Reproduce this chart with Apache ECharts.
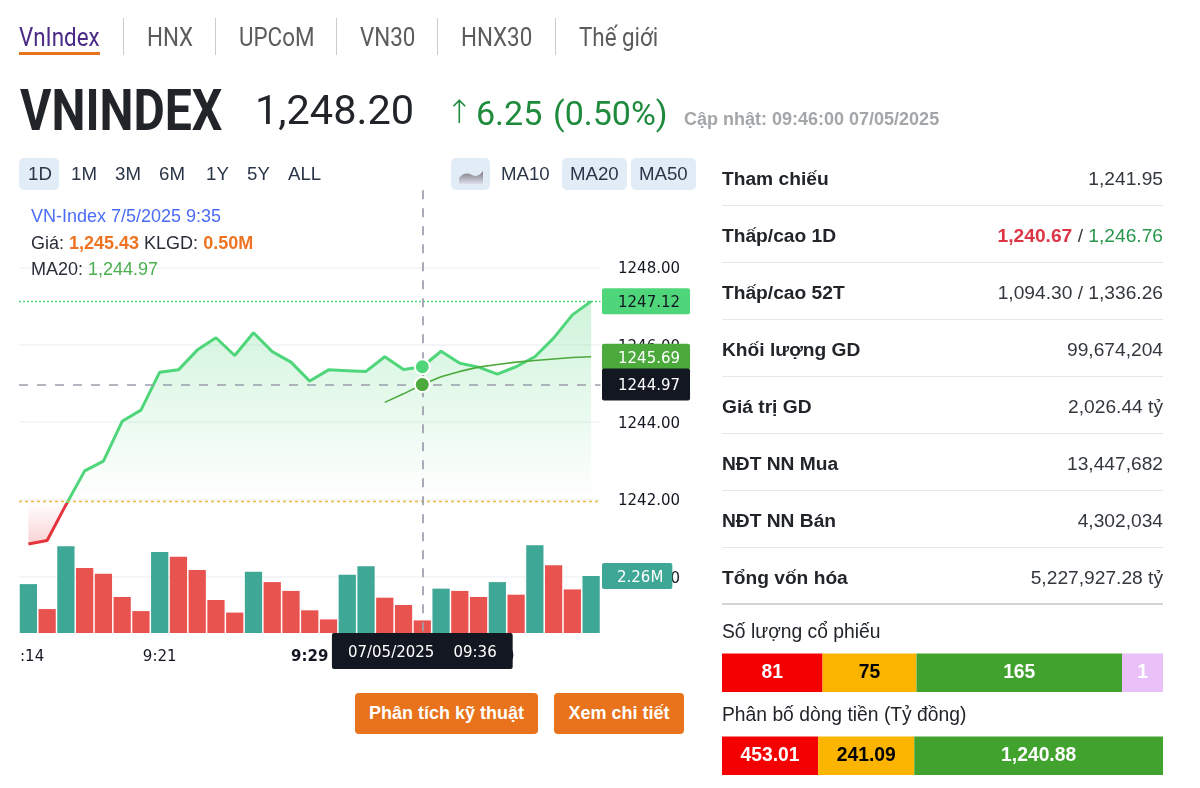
<!DOCTYPE html>
<html>
<head>
<meta charset="utf-8">
<script src="https://cdn.jsdelivr.net/npm/echarts@6/dist/echarts.min.js"></script>
<style>
html, body { margin: 0; padding: 0; background: #fff; }
body { width: 1200px; height: 788px; position: relative; overflow: hidden; font-family: "Liberation Sans", Arial, sans-serif; color: #212529; }
#main { position: absolute; left: 0; top: 0; width: 1200px; height: 788px; }
.t { position: absolute; white-space: nowrap; line-height: 1; transform-origin: left center; }
.tab { font-family: Roboto, sans-serif; font-size: 26px; color: #5c5c5c; top: 24px; transform: scaleX(.86); }
.sep { position: absolute; top: 18px; width: 1px; height: 37px; background: #ccc; }
.rng { font-size: 18.67px; top: 165px; color: #2a3548; }
.box { position: absolute; top: 158px; height: 32px; background: #e1ecf7; border-radius: 5px; }
.leg { font-size: 18px; left: 31px; color: #2a2e39; }
.row { position: absolute; left: 722px; width: 441px; height: 57px; border-bottom: 1px solid #e6e6e6; box-sizing: border-box; font-size: 19.2px; }
.row b { position: absolute; left: 0; top: 20px; line-height: 1; }
.row span { position: absolute; right: 0; top: 20px; line-height: 1; color: #33383e; }
.btn { position: absolute; top: 693px; height: 41px; line-height: 41px; background: #e8731c; color: #fff; font-weight: bold; font-size: 18px; text-align: center; border-radius: 4px; }
</style>
</head>
<body>
<div id="main"></div>

<div class="t tab" style="left:19px;color:#4a2a86">VnIndex</div>
<div style="position:absolute;left:19px;top:52px;width:81px;height:3px;background:#e8731c"></div>
<div class="sep" style="left:123px"></div>
<div class="t tab" style="left:147px">HNX</div>
<div class="sep" style="left:215px"></div>
<div class="t tab" style="left:239px">UPCoM</div>
<div class="sep" style="left:336px"></div>
<div class="t tab" style="left:360px">VN30</div>
<div class="sep" style="left:437px"></div>
<div class="t tab" style="left:461px">HNX30</div>
<div class="sep" style="left:555px"></div>
<div class="t tab" style="left:579px">Thế giới</div>

<div class="t" style="left:20px;top:76px;font:bold 58px Roboto,sans-serif;transform:scaleX(.83)">VNINDEX</div>
<div class="t" style="left:255px;top:85px;font:400 41.5px Roboto,sans-serif">1,248.20</div>
<div class="t" style="left:446px;top:93px;font:300 32px 'DejaVu Sans',sans-serif;color:#1e8a3c">↑</div>
<div class="t" style="left:476px;top:93px;font:400 34px Roboto,sans-serif;color:#1e8a3c">6.25</div>
<div class="t" style="left:553px;top:93px;font:400 34px Roboto,sans-serif;color:#1e8a3c">(0.50%)</div>
<div class="t" style="left:684px;top:109px;font:bold 18px 'Liberation Sans',sans-serif;color:#a3a6a9">Cập nhật: 09:46:00 07/05/2025</div>

<div class="box" style="left:19px;width:40px"></div>
<div class="t rng" style="left:28px">1D</div>
<div class="t rng" style="left:71px">1M</div>
<div class="t rng" style="left:115px">3M</div>
<div class="t rng" style="left:159px">6M</div>
<div class="t rng" style="left:206px">1Y</div>
<div class="t rng" style="left:247px">5Y</div>
<div class="t rng" style="left:288px">ALL</div>
<div class="box" style="left:451px;width:39px"></div>
<svg style="position:absolute;left:451px;top:158px" width="39" height="32">
  <defs><linearGradient id="ic" x1="0" y1="0" x2="0" y2="1"><stop offset="0" stop-color="#777"/><stop offset="1" stop-color="#dde"/></linearGradient></defs>
  <path d="M8 26 L8 20 Q14 13 21 17 Q27 20 32 13 L32 26 Z" fill="url(#ic)"/>
</svg>
<div class="t rng" style="left:501px">MA10</div>
<div class="box" style="left:562px;width:65px"></div>
<div class="t rng" style="left:570px">MA20</div>
<div class="box" style="left:631px;width:65px"></div>
<div class="t rng" style="left:639px">MA50</div>

<div class="t leg" style="top:207px;color:#4a6cf7">VN-Index 7/5/2025 9:35</div>
<div class="t leg" style="top:234px">Giá: <b style="color:#ee7423">1,245.43</b> KLGD: <b style="color:#ee7423">0.50M</b></div>
<div class="t leg" style="top:260px">MA20: <span style="color:#4caf50">1,244.97</span></div>

<div class="row" style="top:149px"><b>Tham chiếu</b><span>1,241.95</span></div>
<div class="row" style="top:206px"><b>Thấp/cao 1D</b><span><b style="position:static;color:#dc3545">1,240.67</b> / <i style="font-style:normal;color:#28974c">1,246.76</i></span></div>
<div class="row" style="top:263px"><b>Thấp/cao 52T</b><span>1,094.30 / 1,336.26</span></div>
<div class="row" style="top:320px"><b>Khối lượng GD</b><span>99,674,204</span></div>
<div class="row" style="top:377px"><b>Giá trị GD</b><span>2,026.44 tỷ</span></div>
<div class="row" style="top:434px"><b>NĐT NN Mua</b><span>13,447,682</span></div>
<div class="row" style="top:491px"><b>NĐT NN Bán</b><span>4,302,034</span></div>
<div class="row" style="top:548px;height:57px;border-bottom:2px solid #d4d4d4"><b>Tổng vốn hóa</b><span>5,227,927.28 tỷ</span></div>

<div class="t" style="left:722px;top:622px;font-size:19.3px">Số lượng cổ phiếu</div>
<div class="t" style="left:722px;top:705px;font-size:19.3px">Phân bố dòng tiền (Tỷ đồng)</div>

<div class="btn" style="left:355px;width:183px">Phân tích kỹ thuật</div>
<div class="btn" style="left:554px;width:130px">Xem chi tiết</div>

<script>
// du lieu doc tu hinh
let times = ['9:14', '9:15', '9:16', '9:17', '9:18', '9:19', '9:20', '9:21', '9:22', '9:23', '9:24',
    '9:25', '9:26', '9:27', '9:28', '9:29', '9:30', '9:31', '9:32', '9:34', '9:35', '9:36', '9:37',
    '9:38', '9:39', '9:40', '9:41', '9:42', '9:43', '9:44', '9:45'];
let priceData = [1240.85, 1240.94, 1241.86, 1242.74, 1242.99, 1244.02, 1244.31, 1245.29, 1245.35, 1245.86, 1246.18,
    1245.72, 1246.31, 1245.82, 1245.55, 1245.06, 1245.35, 1245.33, 1245.31, 1245.69, 1245.36, 1245.43, 1245.83,
    1245.52, 1245.42, 1245.24, 1245.43, 1245.69, 1246.17, 1246.77, 1247.12];
let ma20Data = [null, null, null, null, null, null, null, null, null, null, null,
    null, null, null, null, null, null, null, null, 1244.51, 1244.73, 1244.97, 1245.17,
    1245.31, 1245.42, 1245.49, 1245.55, 1245.59, 1245.63, 1245.67, 1245.69];
let volumeData = [1.94, 0.95, 3.44, 2.58, 2.35, 1.43, 0.87, 3.21, 3.03, 2.5, 1.31,
    0.81, 2.43, 2.02, 1.67, 0.9, 0.54, 2.31, 2.65, 1.4, 1.11, 0.5, 1.76,
    1.67, 1.43, 2.02, 1.52, 3.48, 2.69, 1.73, 2.26];
let volumeUp = [1, 0, 1, 0, 0, 0, 0, 1, 0, 0, 0,
    0, 1, 0, 0, 0, 0, 1, 1, 0, 0, 0, 1,
    0, 0, 1, 0, 1, 0, 0, 1];
let refPrice = 1241.95;
let crossIndex = 21;
let timeTicks = [0, 7, 15, 25];
let tickNames = {0: ':14', 7: '9:21', 15: '9:29', 25: '9:40'};

// trang web co do rong toi thieu nen do dai thanh khong ti le voi gia tri, doc % truc tiep tu hinh
let stockLabels = ['81', '75', '165', '1'];
let stockShare = [22.8, 21.3, 46.6, 9.3];
let flowLabels = ['453.01', '241.09', '1,240.88'];
let flowShare = [21.8, 21.8, 56.4];
let segColors = ['#f50000', '#fbb500', '#41a32d', '#e9c0f7'];
let segText = ['#fff', '#000', '#fff', '#fff'];

const AXIS_FONT = '"DejaVu Sans", sans-serif';
const LINE_GREEN = '#4fd67a', LINE_RED = '#e5343d', MA_GREEN = '#4caa3c', DASH_GREY = '#9c9dac';
const NO_LINE = {color: 'rgba(0,0,0,0)', width: 0};

// vi tri gia tham chieu trong khung bao cua duong gia (0 = dinh, 1 = day)
let priceMax = Math.max.apply(null, priceData), priceMin = Math.min.apply(null, priceData);
let refStop = (priceMax - refPrice) / (priceMax - priceMin);

function tagLabel(text, bg, color, pad) {
    return {
        show: true, position: 'end', distance: 1.5, formatter: '{a|' + text + '}',
        backgroundColor: bg, padding: pad, borderRadius: 2,
        rich: {a: {color: color, fontFamily: AXIS_FONT, fontSize: 15, lineHeight: 15, padding: [4, 0, 0, 0]}}
    };
}

function segmentSeries(labels, shares, gridIdx) {
    return shares.map(function (v, i) {
        return {
            type: 'bar', stack: 'seg' + gridIdx, xAxisIndex: gridIdx, yAxisIndex: gridIdx,
            barCategoryGap: 0, data: [v], silent: true, animation: false,
            itemStyle: {color: segColors[i]},
            label: {
                show: true, position: 'inside', formatter: labels[i], color: segText[i],
                fontFamily: '"Liberation Sans", sans-serif', fontWeight: 'bold', fontSize: 19.3
            }
        };
    });
}

let myChart = echarts.init(document.getElementById('main'), null, {renderer: 'canvas'});
let option = {
    animation: false,
    grid: [
        {left: 19, right: 599.5, top: 189.9, height: 464.4},  // gia
        {left: 19, right: 599.5, top: 532.2, height: 100.8},  // khoi luong
        {left: 722, right: 37, top: 653.5, height: 38.5},
        {left: 722, right: 37, top: 736.5, height: 38.5}
    ],
    xAxis: [
        {type: 'category', gridIndex: 0, data: times, show: false},
        {
            type: 'category', gridIndex: 1, data: times,
            axisLine: {show: false}, axisTick: {show: false},
            axisLabel: {
                interval: function (i) { return timeTicks.indexOf(i) >= 0; },
                hideOverlap: false, margin: 17, fontFamily: AXIS_FONT, fontSize: 15, color: '#131722',
                formatter: function (v, i) {
                    if (i === 0) return '{a|' + tickNames[i] + '}';
                    return i === 15 ? '{b|' + tickNames[i] + '}' : tickNames[i];
                },
                rich: {
                    a: {fontFamily: AXIS_FONT, fontSize: 15, color: '#131722', padding: [0, 0, 0, 7.5]},
                    b: {fontWeight: 'bold', fontFamily: AXIS_FONT, fontSize: 15, color: '#131722'}
                }
            }
        },
        {type: 'value', gridIndex: 2, min: 0, max: 100, show: false},
        {type: 'value', gridIndex: 3, min: 0, max: 100, show: false}
    ],
    yAxis: [
        {
            type: 'value', gridIndex: 0, position: 'right', min: 1238, max: 1250, interval: 2,
            axisLine: {show: false}, axisTick: {show: false},
            splitLine: {show: true, showMinLine: false, showMaxLine: false, lineStyle: {color: '#f0f3f6', width: 1.5}},
            axisLabel: {
                margin: 17.5,
                formatter: function (v) { return (v === 1238 || v === 1250) ? '' : '{a|' + v.toFixed(2) + '}'; },
                rich: {a: {fontFamily: AXIS_FONT, fontSize: 15, color: '#131722', padding: [4, 0, 0, 0]}}
            }
        },
        {type: 'value', gridIndex: 1, min: 0, max: 4, show: false},
        {type: 'category', gridIndex: 2, data: ['a'], show: false},
        {type: 'category', gridIndex: 3, data: ['a'], show: false}
    ],
    series: [
        {
            name: 'KLGD', type: 'bar', xAxisIndex: 1, yAxisIndex: 1, z: 2,
            barCategoryGap: '8%',
            data: volumeData.map(function (v, i) {
                return {value: v, itemStyle: {color: volumeUp[i] ? '#3fa796' : '#e9534f'}};
            }),
            markLine: {
                silent: true, symbol: 'none', z: 20,
                lineStyle: NO_LINE,
                data: [{
                    yAxis: volumeData[volumeData.length - 1],
                    lineStyle: NO_LINE,
                    label: tagLabel(volumeData[volumeData.length - 1].toFixed(2) + 'M', '#3fa796', '#fff', [5.5, 9, 5.5, 15])
                }]
            },
            markPoint: {
                silent: true, symbol: 'circle', symbolSize: 0, z: 30,
                data: [{
                    coord: [crossIndex, 0],
                    label: {
                        show: true, position: 'bottom', distance: 0,
                        formatter: '07/05/2025    09:36',
                        backgroundColor: '#131722', color: '#fff', fontFamily: AXIS_FONT, fontSize: 15,
                        lineHeight: 15, padding: [13, 16, 8, 16], borderRadius: 2
                    }
                }]
            }
        },
        {
            name: 'VN-Index', type: 'line', xAxisIndex: 0, yAxisIndex: 0, z: 3,
            data: priceData, symbol: 'none', smooth: false,
            lineStyle: {
                width: 3,
                color: new echarts.graphic.LinearGradient(0, 0, 0, 1, [
                    {offset: 0, color: LINE_GREEN},
                    {offset: refStop, color: LINE_GREEN},
                    {offset: refStop, color: LINE_RED},
                    {offset: 1, color: LINE_RED}
                ])
            },
            areaStyle: {
                origin: refPrice, opacity: 1,
                // vung xanh phia tren gia tham chieu, vung do phia duoi
                color: new echarts.graphic.LinearGradient(0, 0, 0, 1, [
                    {offset: 0, color: 'rgba(79,214,122,0.28)'},
                    {offset: refStop, color: 'rgba(79,214,122,0)'},
                    {offset: refStop, color: 'rgba(229,52,61,0)'},
                    {offset: 1, color: 'rgba(229,52,61,0.22)'}
                ])
            },
            markLine: {
                silent: true, symbol: 'none', z: 6,
                data: [
                    {
                        yAxis: priceData[priceData.length - 1],
                        lineStyle: {color: LINE_GREEN, type: [2, 2], width: 1.3},
                        label: tagLabel(priceData[priceData.length - 1].toFixed(2), LINE_GREEN, '#131722', [5.5, 10, 5.5, 16])
                    },
                    {
                        yAxis: refPrice,
                        lineStyle: {color: '#e8b93a', type: [3, 3], width: 1.3},
                        label: {show: false}
                    },
                    {
                        yAxis: ma20Data[ma20Data.length - 1],
                        lineStyle: NO_LINE,
                        label: tagLabel(ma20Data[ma20Data.length - 1].toFixed(2), MA_GREEN, '#fff', [5.5, 10, 5.5, 16])
                    },
                    {
                        yAxis: ma20Data[crossIndex],
                        lineStyle: {color: DASH_GREY, type: [9, 9], width: 1.7},
                        label: tagLabel(ma20Data[crossIndex].toFixed(2), '#131722', '#fff', [8.5, 10, 8.5, 16])
                    },
                    {
                        xAxis: crossIndex,
                        lineStyle: {color: DASH_GREY, type: [9, 9], dashOffset: 13, width: 1.7},
                        label: {show: false}
                    }
                ]
            },
            markPoint: {
                silent: true, symbol: 'circle', symbolSize: 15, z: 12,
                label: {show: false},
                data: [
                    {coord: [crossIndex, priceData[crossIndex]], itemStyle: {color: LINE_GREEN, borderColor: '#fff', borderWidth: 2}}
                ]
            }
        },
        {
            name: 'MA20', type: 'line', xAxisIndex: 0, yAxisIndex: 0, z: 4,
            data: ma20Data, symbol: 'none', lineStyle: {color: MA_GREEN, width: 1.6},
            markPoint: {
                silent: true, symbol: 'circle', symbolSize: 15, z: 12,
                label: {show: false},
                data: [
                    {coord: [crossIndex, ma20Data[crossIndex]], itemStyle: {color: MA_GREEN, borderColor: '#fff', borderWidth: 2}}
                ]
            }
        }
    ].concat(segmentSeries(stockLabels, stockShare, 2), segmentSeries(flowLabels, flowShare, 3))
};
myChart.setOption(option);
</script>
</body>
</html>
